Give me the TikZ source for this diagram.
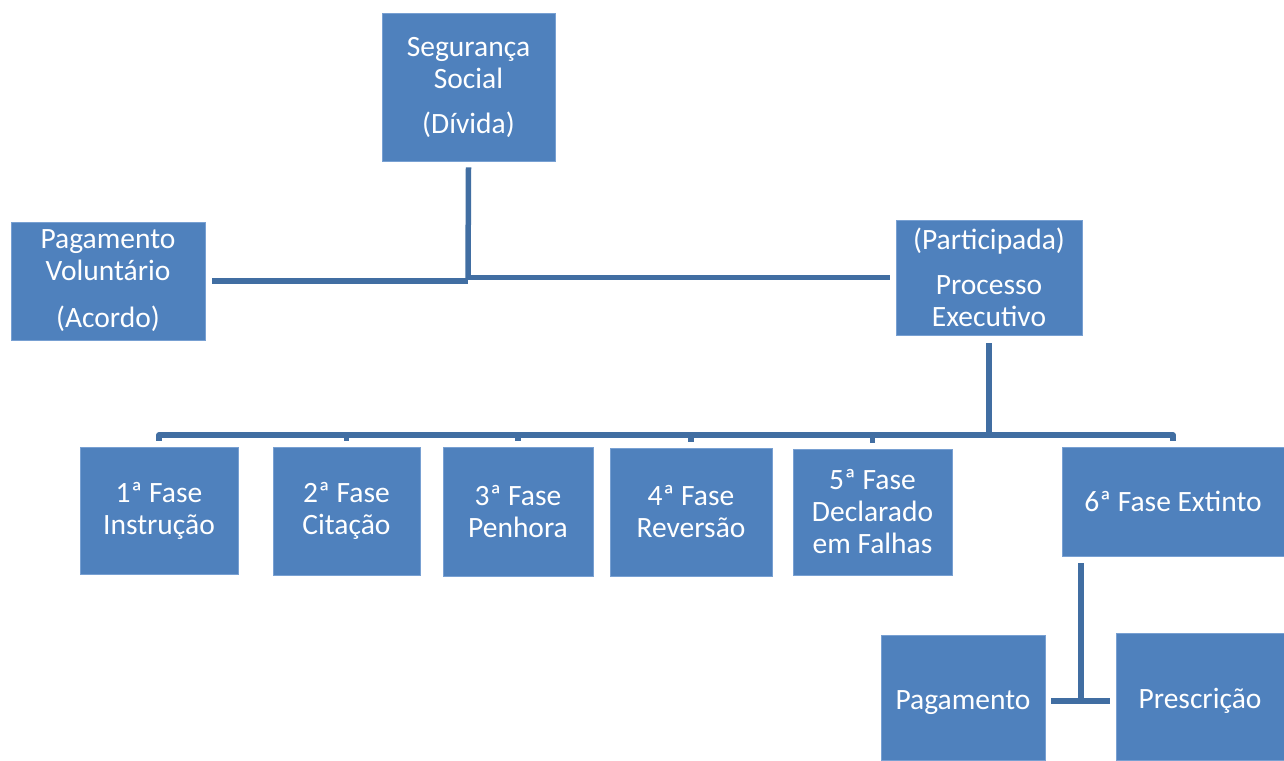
\documentclass[tikz,border=0pt]{standalone}
\usepackage{fontspec}
\setmainfont{Carlito}
\definecolor{boxfill}{RGB}{79,129,189}
\definecolor{boxedge}{RGB}{120,160,210}
\definecolor{connc}{RGB}{65,110,162}
\tikzset{
  box/.style={fill=boxfill, draw=boxedge, line width=0.8pt, text=white, align=center, inner sep=0pt,
    font=\fontsize{29.5}{32}\selectfont},
  conn/.style={draw=connc, line width=5.5pt, line join=round}
}
\begin{document}
\begin{tikzpicture}[x=1pt,y=-1pt]
\useasboundingbox (0,0) rectangle (1284,760);
\node[box, minimum width=173pt, minimum height=148pt] (seg) at (468.5,87) {Segurança\\Social\\[13pt](Dívida)};
\node[box, minimum width=194pt, minimum height=118pt] (pv) at (108,281) {Pagamento\\Voluntário\\[15pt](Acordo)};
\node[box, minimum width=186pt, minimum height=115pt] (pe) at (989,277.5) {(Participada)\\[13pt]Processo\\Executivo};
\node[box, minimum width=158pt, minimum height=127pt] (f1) at (159,510.5) {1ª Fase\\Instrução};
\node[box, minimum width=147pt, minimum height=128pt] (f2) at (346.5,511) {2ª Fase\\Citação};
\node[box, minimum width=150pt, minimum height=129pt] (f3) at (518,511.5) {3ª Fase\\Penhora};
\node[box, minimum width=162pt, minimum height=128pt] (f4) at (691,512) {4ª Fase\\Reversão};
\node[box, minimum width=159pt, minimum height=126pt] (f5) at (872.5,512) {5ª Fase\\Declarado\\em Falhas};
\node[box, minimum width=222pt, minimum height=109pt] (f6) at (1173,501.5) {6ª Fase Extinto};
\node[box, minimum width=164pt, minimum height=125pt, text height=29pt, text depth=6pt] (pag) at (963,697.5) {Pagamento};
\node[box, minimum width=168pt, minimum height=127pt, text height=29pt, text depth=6pt] (pre) at (1200,696.5) {Prescrição};

\coordinate (j1) at (468,279);
\draw[conn] ([yshift=-6pt]seg.south) -- (j1);
\draw[conn] ([xshift=7pt]pv.east) -- (pv.east -| j1);
\draw[conn] (j1 |- pe.west) -- ([xshift=-6pt]pe.west);

\coordinate (bar) at (989,435);
\draw[conn] ([yshift=-8pt]pe.south) -- (bar);
\draw[conn] ([yshift=6pt]f1.north) |- (bar) -| ([yshift=6pt]f6.north);
\draw[conn] ([yshift=6pt]f2.north) -- (f2.north |- bar);
\draw[conn] ([yshift=6pt]f3.north) -- (f3.north |- bar);
\draw[conn] ([yshift=6pt]f4.north) -- (f4.north |- bar);
\draw[conn] ([yshift=6pt]f5.north) -- (f5.north |- bar);

\coordinate (j3) at (1081,701);
\draw[conn] ([xshift=-92pt,yshift=-7pt]f6.south) -- (j3);
\draw[conn] ([xshift=6pt]pag.east |- j3) -- ([xshift=-6pt]pre.west |- j3);
\end{tikzpicture}
\end{document}
